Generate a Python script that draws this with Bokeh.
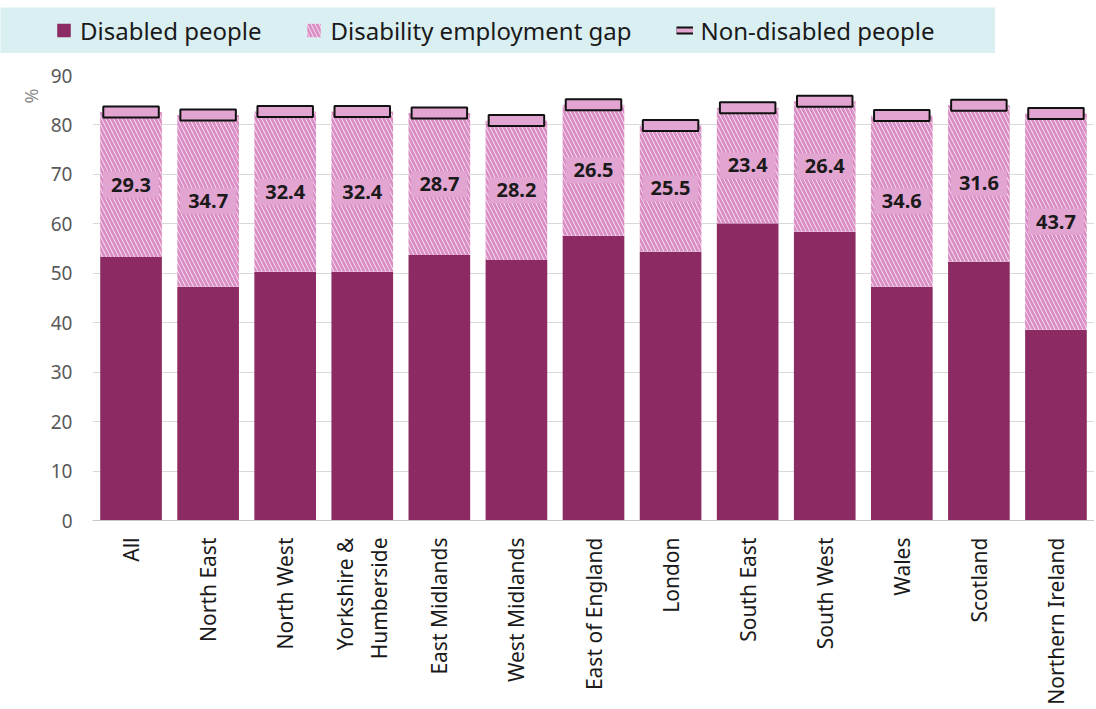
import math
from bokeh.plotting import figure
from bokeh.layouts import column, row
from bokeh.models import (ColumnDataSource, Legend, LegendItem, Title, FactorRange,
                          FixedTicker, Range1d, Spacer)
from bokeh.core.properties import value
from bokeh.embed import file_html
from bokeh.resources import INLINE

# ---- data ----
regions = ["All", "North East", "North West", "Yorkshire &\nHumberside", "East Midlands",
           "West Midlands", "East of England", "London", "South East", "South West",
           "Wales", "Scotland", "Northern Ireland"]
disabled = [53.3, 47.3, 50.3, 50.3, 53.7, 52.7, 57.6, 54.4, 60.1, 58.4, 47.3, 52.4, 38.6]
gap = [29.3, 34.7, 32.4, 32.4, 28.7, 28.2, 26.5, 25.5, 23.4, 26.4, 34.6, 31.6, 43.7]
y_ticks = [0, 10, 20, 30, 40, 50, 60, 70, 80, 90]

# ---- derived ----
non_disabled = [d + g for d, g in zip(disabled, gap)]
mid = [d + g / 2 for d, g in zip(disabled, gap)]
gap_labels = [f"{g:.1f}" for g in gap]

src = ColumnDataSource(dict(region=regions, disabled=disabled, gap=gap,
                            nd=non_disabled, mid=mid, lab=gap_labels))

DIS = "#8c2a63"
PINK = "#e2a4d0"
HATCH = "#da8ec5"
BAND = "#daeff1"
FONT = "Noto Sans"
FRAME_W, FRAME_H, LEFT = 1002, 445, 92
BAND_W, BAND_H, BAND_TOP = 995, 46, 7


def add_series(fig):
    rd = fig.vbar(x="region", top="disabled", bottom=0, width=0.8, source=src,
                  fill_color=DIS, line_color=None)
    rg = fig.vbar(x="region", bottom="disabled", top="nd", width=0.8, source=src,
                  fill_color="white", line_color=None, hatch_pattern="\\",
                  hatch_color=HATCH, hatch_scale=8, hatch_weight=3)
    # zero-length segments: invisible, they give the legend its dash glyph
    sb = fig.segment(x0="region", y0="nd", x1="region", y1="nd", source=src,
                     line_color="#111111", line_width=8, line_cap="butt")
    sp = fig.segment(x0="region", y0="nd", x1="region", y1="nd", source=src,
                     line_color=PINK, line_width=4, line_cap="butt")
    return rd, rg, sb, sp


# ---------------- main chart ----------------
p = figure(x_range=FactorRange(*regions, range_padding=0), y_range=(0, 90),
           frame_width=FRAME_W, frame_height=FRAME_H, output_backend="svg",
           toolbar_location=None, min_border_left=LEFT, min_border_right=0,
           min_border_top=22, min_border_bottom=0)
p.outline_line_color = None
p.background_fill_color = "white"
p.border_fill_color = "white"

add_series(p)
p.rect(x="region", y="nd", width=0.72, height=11, height_units="screen", source=src,
       fill_color=PINK, line_color="#111111", line_width=2)
p.text(x="region", y="mid", text="lab", source=src, text_font=value(FONT),
       text_font_style="bold", text_font_size="20px", text_color="#1a1a1a",
       text_align="center", text_baseline="middle",
       background_fill_color=PINK, padding=(8, 6))

p.xgrid.grid_line_color = None
p.ygrid.grid_line_color = "#d9d9d9"
p.ygrid.grid_line_width = 1
p.yaxis.ticker = FixedTicker(ticks=y_ticks)
p.yaxis.axis_line_color = None
p.yaxis.major_tick_line_color = None
p.yaxis.minor_tick_line_color = None
p.yaxis.major_label_text_font = FONT
p.yaxis.major_label_text_font_size = "19px"
p.yaxis.major_label_text_color = "#595959"
p.yaxis.major_label_standoff = 14

p.xaxis.axis_line_color = "#c8c8c8"
p.xaxis.major_tick_line_color = None
p.xaxis.minor_tick_line_color = None
p.xaxis.major_label_orientation = math.pi / 2
p.xaxis.major_label_text_font = FONT
p.xaxis.major_label_text_font_size = "21px"
p.xaxis.major_label_text_color = "#1a1a1a"
p.xaxis.major_label_standoff = 11

pct = Title(text="%", align="right", offset=13, text_font=FONT, text_font_size="18px",
            text_color="#8c8c8c", text_font_style="normal")
p.add_layout(pct, "left")

# ---------------- legend band ----------------
leg = figure(x_range=FactorRange(*regions), y_range=Range1d(100, 101),
             frame_width=BAND_W, frame_height=BAND_H, output_backend="svg",
             toolbar_location=None, x_axis_location=None, y_axis_location=None,
             min_border_left=0, min_border_right=0, min_border_top=0, min_border_bottom=0)
leg.outline_line_color = None
leg.background_fill_color = BAND
leg.border_fill_color = "white"
leg.xgrid.grid_line_color = None
leg.ygrid.grid_line_color = None
ld, lg, lb, lp = add_series(leg)

legend = Legend(items=[LegendItem(label="Disabled people", renderers=[ld]),
                       LegendItem(label="Disability employment gap", renderers=[lg]),
                       LegendItem(label="Non-disabled people", renderers=[lb, lp])],
                orientation="horizontal", location="center_left")
legend.background_fill_alpha = 0
legend.border_line_color = None
legend.label_text_font = FONT
legend.label_text_font_size = "24px"
legend.label_text_color = "#1a1a1a"
legend.glyph_width = 17
legend.glyph_height = 17
legend.label_standoff = 8
legend.spacing = 44
legend.padding = 0
legend.margin = 55
leg.add_layout(legend)

layout = column(Spacer(width=10, height=BAND_TOP), row(leg), p, spacing=0)
open("out.html", "w").write(file_html(layout, INLINE))
